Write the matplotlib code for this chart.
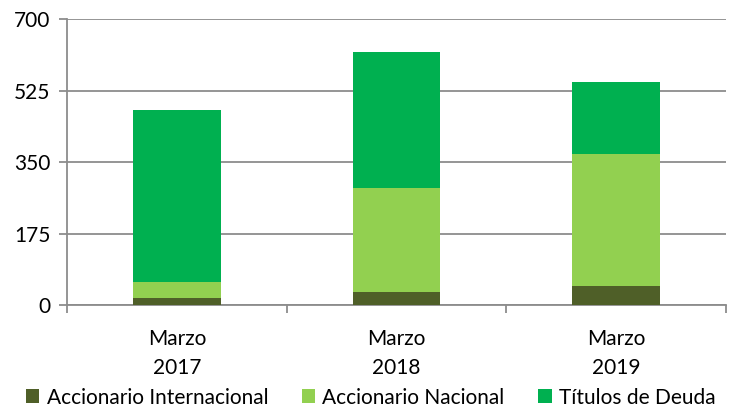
import matplotlib
matplotlib.use("Agg")
import matplotlib.pyplot as plt
import numpy as np

categories = ["Marzo\n2017", "Marzo\n2018", "Marzo\n2019"]
internacional = [17, 33, 47]
nacional = [39, 253, 324]
deuda = [422, 333, 174]
yticks = [0, 175, 350, 525, 700]
series_names = ["Accionario Internacional", "Accionario Nacional", "Títulos de Deuda"]
colors = ["#4F5F28", "#92D050", "#00B050"]

plt.rcParams['font.family'] = ['Lato', 'DejaVu Sans']

fig = plt.figure(figsize=(7.31, 4.08), dpi=100)
ax = fig.add_axes([0.0917, 0.2517, 0.9013, 0.7017])

x = np.arange(len(categories))
bottom = np.zeros(len(categories))
for vals, c, name in zip([internacional, nacional, deuda], colors, series_names):
    ax.bar(x, vals, bottom=bottom, width=0.4, color=c, label=name, zorder=3)
    bottom += np.array(vals)

ax.set_xlim(-0.5, 2.5)
ax.set_ylim(0, 700)
ax.set_yticks(yticks)
ax.set_yticklabels([str(v) for v in yticks], fontsize=15)
ax.yaxis.grid(True, color="#8C8C8C", linewidth=1.3, zorder=0)
ax.set_axisbelow(True)

ax.set_xticks([-0.5, 0.5, 1.5, 2.5])
ax.set_xticklabels([])
ax.set_xticks(x, minor=True)
ax.set_xticklabels(categories, minor=True, fontsize=15, linespacing=1.55)
ax.tick_params(axis='x', which='major', length=6, width=1.3, color="#8C8C8C", direction='out')
ax.tick_params(axis='x', which='minor', length=0, pad=17)
ax.tick_params(axis='y', length=6, width=1.3, color="#8C8C8C", pad=6)

for s in ['top', 'right']:
    ax.spines[s].set_visible(False)
for s in ['left', 'bottom']:
    ax.spines[s].set_color("#8C8C8C")
    ax.spines[s].set_linewidth(1.3)

fig.legend(loc='lower center', bbox_to_anchor=(0.507, -0.045), ncol=3, frameon=False,
           fontsize=15, handlelength=0.65, handleheight=0.65, handletextpad=0.35,
           columnspacing=1.6)

fig.savefig("out.png", dpi=100)
